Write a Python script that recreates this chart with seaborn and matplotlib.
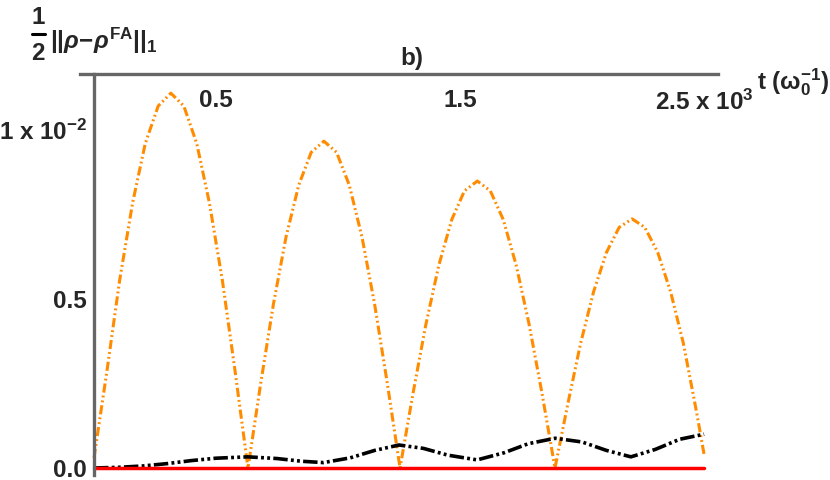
import numpy as np
import pandas as pd
import matplotlib
matplotlib.use("Agg")
import matplotlib.pyplot as plt
from matplotlib.lines import Line2D
import seaborn as sns

# time in units of 10^3 / omega_0, distances in units of 10^-2
t_orange = [0.0, 0.053, 0.105, 0.158, 0.210, 0.263, 0.315, 0.368, 0.421, 0.473, 0.526, 0.578, 0.631,
            0.683, 0.735, 0.787, 0.839, 0.890, 0.942, 0.994, 1.046, 1.098, 1.150, 1.202, 1.254,
            1.307, 1.360, 1.413, 1.466, 1.518, 1.571, 1.624, 1.677, 1.730, 1.783, 1.836, 1.889,
            1.942, 1.994, 2.047, 2.100, 2.152, 2.205, 2.257, 2.310, 2.363, 2.415, 2.468, 2.500]
d_orange = [0.03, 0.287, 0.555, 0.784, 0.960, 1.071, 1.109, 1.071, 0.960, 0.784, 0.555, 0.287, 0.0,
            0.250, 0.484, 0.684, 0.837, 0.934, 0.967, 0.934, 0.837, 0.684, 0.484, 0.250, 0.0,
            0.220, 0.425, 0.600, 0.735, 0.820, 0.849, 0.820, 0.735, 0.600, 0.425, 0.220, 0.0,
            0.191, 0.369, 0.521, 0.638, 0.712, 0.737, 0.712, 0.638, 0.521, 0.369, 0.170, 0.04]

t_black = [0.0, 0.1, 0.2, 0.3, 0.4, 0.5, 0.63, 0.75, 0.85, 0.94, 1.05, 1.15, 1.25,
           1.35, 1.45, 1.57, 1.68, 1.78, 1.89, 2.0, 2.1, 2.2, 2.3, 2.4, 2.5]
d_black = [0.0, 0.002, 0.006, 0.013, 0.022, 0.029, 0.033, 0.028, 0.020, 0.016, 0.030, 0.052, 0.068,
           0.058, 0.038, 0.024, 0.045, 0.072, 0.088, 0.077, 0.052, 0.033, 0.055, 0.085, 0.100]

t_red = [0.0, 2.5]
d_red = [0.0, 0.0]

xticks = [0.5, 1.5, 2.5]
xticklabels = ["0.5", "1.5", r"2.5 x 10$^{3}$"]
yticks = [0.0, 0.5, 1.0]
yticklabels = ["0.0", "0.5", r"1 x 10$^{-2}$"]

sns.set_style("white")
plt.rcParams["font.family"] = ["Liberation Sans", "DejaVu Sans"]
plt.rcParams["font.weight"] = "bold"
plt.rcParams["mathtext.fontset"] = "custom"
plt.rcParams["mathtext.rm"] = "Liberation Sans:bold"
plt.rcParams["mathtext.bf"] = "Liberation Sans:bold"
plt.rcParams["mathtext.it"] = "Liberation Sans:italic:bold"
plt.rcParams["mathtext.default"] = "rm"

fs = 17.5
fig = plt.figure(figsize=(8.3, 4.8), dpi=100)
ax = fig.add_axes([80 / 830, 5 / 480, 638 / 830, 401 / 480])

orange = pd.DataFrame({"t": t_orange, "d": d_orange})
black = pd.DataFrame({"t": t_black, "d": d_black})
red = pd.DataFrame({"t": t_red, "d": d_red})

sns.lineplot(data=orange, x="t", y="d", ax=ax, color="#ff8c00", lw=2.2,
             linestyle=(0, (3.0, 1.0, 0.6, 1.0, 0.6, 1.0)), sort=False)
sns.lineplot(data=black, x="t", y="d", ax=ax, color="black", lw=2.6,
             linestyle=(0, (4, 0.9, 0.8, 0.9, 0.8, 0.9)), sort=False)
sns.lineplot(data=red, x="t", y="d", ax=ax, color="red", lw=2.5, sort=False)

ax.set_xlim(-0.0574, 2.557)
ax.set_ylim(-0.0207, 1.1657)
ax.set_xlabel("")
ax.set_ylabel("")

gray = "#666666"
for s in ["right", "top"]:
    ax.spines[s].set_visible(False)
ax.spines["left"].set_position(("data", 0))
ax.spines["bottom"].set_position(("axes", 1.0))
for s in ["left", "bottom"]:
    ax.spines[s].set_color(gray)
    ax.spines[s].set_linewidth(2.4)

ax.set_xticks(xticks)
ax.set_xticklabels(xticklabels)
ax.set_yticks(yticks)
ax.set_yticklabels(yticklabels)
ax.tick_params(axis="x", direction="in", length=5, width=2, color=gray, pad=11, labelsize=fs)
ax.tick_params(axis="y", direction="in", length=5, width=2, color=gray, pad=5, labelsize=fs)
ax.spines["left"].set_zorder(5)

fig.text(757 / 830, 1 - 82 / 480, r"t ($\omega_0^{-1}$)", fontsize=fs, fontweight="bold",
         ha="left", va="center")
# y label: 1/2 ||rho - rho^FA||_1 built as a stacked fraction
fig.text(38 / 830, 1 - 18 / 480, "1", fontsize=fs, fontweight="bold", ha="center", va="center")
fig.add_artist(Line2D([32 / 830, 45 / 830], [1 - 34 / 480, 1 - 34 / 480], color="black", lw=2.2))
fig.text(38 / 830, 1 - 53 / 480, "2", fontsize=fs, fontweight="bold", ha="center", va="center")
fig.text(50 / 830, 1 - 41 / 480, r"$||\mathit{\rho}\!-\!\mathit{\rho}^{\mathrm{FA}}||_1$",
         fontsize=fs, ha="left", va="center")
fig.text(412 / 830, 1 - 58 / 480, "b)", fontsize=fs, fontweight="bold", ha="center", va="center")

fig.savefig("out.png", dpi=100)
